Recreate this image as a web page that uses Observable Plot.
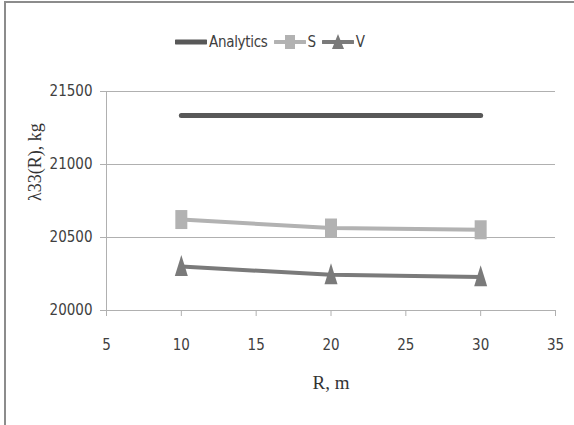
<!DOCTYPE html>
<html>
<head>
<meta charset="utf-8">
<script src="https://cdn.jsdelivr.net/npm/d3@7"></script>
<script src="https://cdn.jsdelivr.net/npm/@observablehq/plot@0.6"></script>
<style>
  html, body { margin: 0; padding: 0; background: #fff; }
  #wrap { position: relative; width: 574px; height: 425px; overflow: hidden; }
  #frame { position: absolute; left: 4px; top: 1px; width: 600px; height: 500px;
           border-left: 2px solid #8c8c8c; border-top: 2px solid #8c8c8c; pointer-events: none; }
  #chart { position: absolute; left: 0; top: 0; }
  #legend { position: absolute; top: 31px; left: 175px; display: flex; align-items: center;
            font-family: "DejaVu Sans Condensed", "Liberation Sans Narrow", sans-serif;
            font-size: 15px; color: #404040; white-space: nowrap; letter-spacing: -0.3px; }
  .leg { display: flex; align-items: center; margin-right: 6px; }
  .leg svg { display: block; margin-right: 2px; }
</style>
</head>
<body>
<div id="wrap">
  <div id="chart"></div>
  <div id="legend"></div>
  <div id="frame"></div>
</div>
<script>
// ---- data ----
const R = [10, 20, 30];
const analytics = [21335, 21335, 21335];
const sValues = [20623, 20565, 20553];
const vValues = [20301, 20245, 20230];
const seriesNames = ["Analytics", "S", "V"];
const xTicks = [5, 10, 15, 20, 25, 30, 35];
const yTicks = [20000, 20500, 21000, 21500];

const colors = { Analytics: "#585858", S: "#b2b2b2", V: "#7a7a7a" };

const rows = (name, vals) => R.map((r, i) => ({ series: name, R: r, value: vals[i] }));
const dataA = rows("Analytics", analytics);
const dataS = rows("S", sValues);
const dataV = rows("V", vValues);

// custom stretched symbols (the source image is vertically stretched)
const rectSymbol = (w, h) => ({
  draw(ctx) { ctx.moveTo(-w / 2, -h / 2); ctx.lineTo(w / 2, -h / 2); ctx.lineTo(w / 2, h / 2); ctx.lineTo(-w / 2, h / 2); ctx.closePath(); }
});
const triSymbol = (w, h) => ({
  draw(ctx) { ctx.moveTo(0, -h * 0.55); ctx.lineTo(w / 2, h * 0.45); ctx.lineTo(-w / 2, h * 0.45); ctx.closePath(); }
});

const sans = '"DejaVu Sans Condensed", "Liberation Sans Narrow", sans-serif';
const serif = '"Liberation Serif", "DejaVu Serif", serif';

const plot = Plot.plot({
  width: 574,
  height: 425,
  marginLeft: 106,
  marginRight: 19,
  marginTop: 91,
  marginBottom: 115,
  style: { fontFamily: sans, fontSize: "15px", background: "transparent", overflow: "visible" },
  x: { domain: [5, 35] },
  y: { domain: [20000, 21500] },
  marks: [
    Plot.ruleY(yTicks, { stroke: "#b0b0b0", strokeWidth: 1 }),
    Plot.ruleX([5], { stroke: "#b0b0b0", strokeWidth: 1 }),
    Plot.axisY({ ticks: yTicks, tickSize: 6, tickPadding: 8, tickFormat: d => String(d), label: null, stroke: "#b0b0b0", color: "#404040" }),
    Plot.axisX({ ticks: xTicks, tickSize: 6, tickPadding: 23, tickFormat: d => String(d), label: null, stroke: "#b0b0b0", color: "#404040" }),
    Plot.text(["R, m"], { frameAnchor: "bottom", dy: 78, fontFamily: serif, fontSize: 19, fill: "#333" }),
    Plot.text(["\u03bb33(R), kg"], { frameAnchor: "left", dx: -71, rotate: -90, fontFamily: serif, fontSize: 18, fill: "#333" }),
    Plot.line(dataA, { x: "R", y: "value", stroke: colors.Analytics, strokeWidth: 5, strokeLinecap: "round" }),
    Plot.line(dataS, { x: "R", y: "value", stroke: colors.S, strokeWidth: 4 }),
    Plot.dot(dataS, { x: "R", y: "value", symbol: rectSymbol(12, 19), fill: colors.S, stroke: "none", r: 5 }),
    Plot.line(dataV, { x: "R", y: "value", stroke: colors.V, strokeWidth: 4 }),
    Plot.dot(dataV, { x: "R", y: "value", symbol: triSymbol(13, 21), fill: colors.V, stroke: "none", r: 5 })
  ]
});
document.getElementById("chart").appendChild(plot);

// ---- legend ----
const legend = document.getElementById("legend");
seriesNames.forEach(name => {
  const div = document.createElement("div");
  div.className = "leg";
  const sw = 32;
  let inner = `<line x1="1" x2="${sw - 1}" y1="11" y2="11" stroke="${colors[name]}" stroke-width="${name === "Analytics" ? 5 : 4}" stroke-linecap="round"/>`;
  if (name === "S") inner += `<rect x="${sw / 2 - 5}" y="4" width="10" height="14" fill="${colors.S}"/>`;
  if (name === "V") inner += `<path d="M${sw / 2},3 L${sw / 2 + 6},18 L${sw / 2 - 6},18 Z" fill="${colors.V}"/>`;
  div.innerHTML = `<svg width="${sw}" height="22">${inner}</svg><span>${name}</span>`;
  legend.appendChild(div);
});
</script>
</body>
</html>
